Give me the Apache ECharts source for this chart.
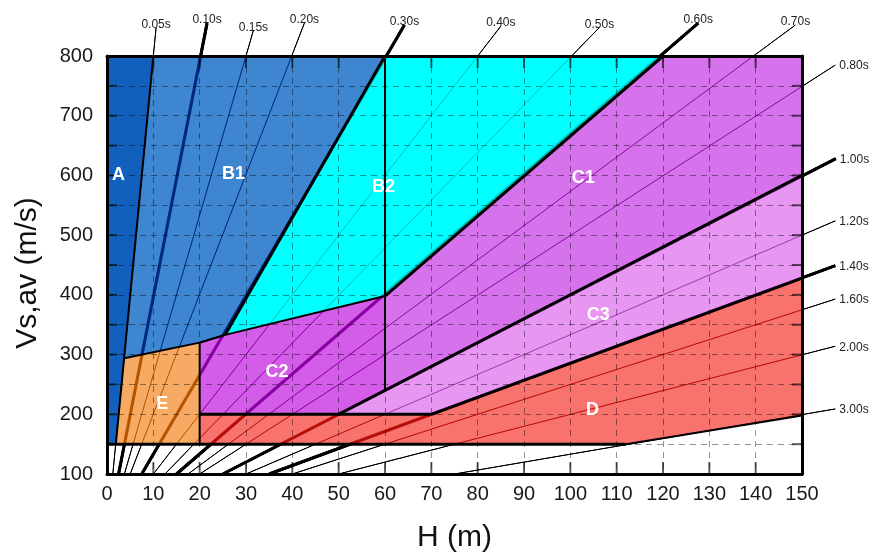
<!DOCTYPE html>
<html><head><meta charset="utf-8">
<script src="https://cdn.jsdelivr.net/npm/echarts@6/dist/echarts.min.js"></script>
<style>html,body{margin:0;padding:0;background:#fff}#c{width:875px;height:558px}</style>
</head><body><div id="c"></div>
<script>
// ---------- data ----------
const periodLabels = ['0.05s','0.10s','0.15s','0.20s','0.30s','0.40s','0.50s','0.60s','0.70s',
                      '0.80s','1.00s','1.20s','1.40s','1.60s','2.00s','3.00s'];
// H (m) where each period line leaves the bottom axis (Vs = 100)
const lineStartH = [1.25, 2.5, 3.75, 5, 7.5, 10, 12.5, 15, 17.5, 20, 25, 30, 35, 40, 50, 75];
// [H, Vs] where each period line ends, outside the frame
const lineEnd = [[10.6,848],[21.6,855],[31.6,843],[42.6,855],[64.2,852],[85,850],[106.3,848],
                 [127.6,855],[148.6,852],[157.2,785],[157.3,628],[157.2,524],[157.2,449],
                 [157.2,393],[157.2,314],[157.2,209]];
const thickPeriods = ['0.10s','0.30s','0.60s','1.00s','1.40s'];

const xTicks = [0,10,20,30,40,50,60,70,80,90,100,110,120,130,140,150];
const yTicks = [100,150,200,250,300,350,400,450,500,550,600,650,700,750,800];
const yTickLabels = ['100','200','300','400','500','600','700','800'];

const regionNames = ['A','B1','B2','C1','C2','C3','D','E'];
const regionA  = [[0,150],[0,800],[10,800],[1.9,150]];
const regionB1 = [[3.7,294],[10,800],[60,800],[25.5,333],[20,320]];
const regionB2 = [[25.5,333],[60,800],[120,800],[60,398]];
const regionC1 = [[60,398],[120,800],[150,800],[150,600],[60,240]];
const regionC2 = [[20,320],[25.5,333],[60,398],[60,240],[50,200],[20,200]];
const regionC3 = [[50,200],[150,600],[150,428],[70,200]];
const regionD  = [[20,150],[20,200],[70,200],[150,428],[150,198],[112,150]];
const regionE  = [[1.9,150],[3.7,294],[20,320],[20,150]];
const regionLabelAt = [[2.5,600],[27.3,603],[59.7,580],[102.8,595],[36.7,270],[106,366],[104.8,207],[11.9,217]];

const boundaryThick = [
  [[0,150],[112,150]],
  [[25.5,333],[60,800]],
  [[60,398],[120,800]],
  [[20,200],[70,200]],
  [[50,200],[150,600]],
  [[70,200],[150,428]]
];
const boundaryMedium = [
  [[1.9,150],[10,800]],
  [[3.7,294],[20,320],[25.5,333]],
  [[20,320],[25.5,333],[60,398]],
  [[20,150],[20,320]],
  [[60,240],[60,800]],
  [[112,150],[150,198]]
];

// ---------- styling ----------
const FONT = '"Liberation Sans", Arial, sans-serif';
const regionColors = ['#1260be','#3e86d0','#00ffff','#d672ec','#d35ce8','#e796f2','#f8726e','#f6aa64'];
const xMin = 0, xMax = 150, yMin = 100, yMax = 800;
const regions = [regionA, regionB1, regionB2, regionC1, regionC2, regionC3, regionD, regionE];

// tick items: [value, side]  side 0 bottom, 1 top, 2 left, 3 right
const tickItems = [].concat(
  xTicks.map(v => [v, 0]), xTicks.map(v => [v, 1]),
  yTicks.map(v => [v, 2]), yTicks.map(v => [v, 3])
);
const TICK_X = 12, TICK_Y = 10, TICK_W = 2;

function periodSeries(z, color, blend, withLabels) {
  const s = {
    type: 'custom', z: z, clip: false, silent: true, animation: false,
    xAxisIndex: 0, yAxisIndex: 0,
    data: lineStartH.map(h => [h, yMin]),
    renderItem: function (params, api) {
      const i = params.dataIndex;
      const a = api.coord([lineStartH[i], yMin]);
      const b = api.coord(lineEnd[i]);
      const w = thickPeriods.indexOf(periodLabels[i]) >= 0 ? 3 : 1;
      const children = [{ type: 'line', shape: { x1: a[0], y1: a[1], x2: b[0], y2: b[1] },
                          style: { stroke: color, lineWidth: w } }];
      if (withLabels) {
        const top = lineEnd[i][1] > yMax;
        children.push({ type: 'text', x: top ? b[0] : b[0] + 4, y: top ? b[1] + 3 : b[1] + 1,
          style: { text: periodLabels[i], font: '12px ' + FONT, fill: '#222',
                   align: top ? 'center' : 'left', verticalAlign: top ? 'bottom' : 'middle' } });
      }
      return { type: 'group', children: children };
    }
  };
  if (blend) s.blendMode = blend;
  return s;
}

// ticks drawn as small filled rectangles (inside the frame)
const tickSeries = {
  type: 'custom', z: 10, clip: false, silent: true, animation: false,
  xAxisIndex: 0, yAxisIndex: 0,
  data: tickItems.map(t => (t[1] < 2 ? [t[0], t[1] === 0 ? yMin : yMax] : [t[1] === 2 ? xMin : xMax, t[0]])),
  renderItem: function (params, api) {
    const t = tickItems[params.dataIndex];
    const v = t[0], side = t[1];
    let r;
    if (side === 0) { const a = api.coord([v, yMin]); r = { x: a[0] - TICK_W / 2, y: a[1] - TICK_X, width: TICK_W, height: TICK_X }; }
    else if (side === 1) { const a = api.coord([v, yMax]); r = { x: a[0] - TICK_W / 2, y: a[1], width: TICK_W, height: TICK_X }; }
    else if (side === 2) { const a = api.coord([xMin, v]); r = { x: a[0], y: a[1] - TICK_W / 2, width: TICK_Y, height: TICK_W }; }
    else { const a = api.coord([xMax, v]); r = { x: a[0] - TICK_Y, y: a[1] - TICK_W / 2, width: TICK_Y, height: TICK_W }; }
    return { type: 'group', children: [
      { type: 'rect', shape: r, style: { fill: 'rgba(0,0,0,0.62)', stroke: null } }
    ] };
  }
};

function boundarySeries(lines, width) {
  return {
    type: 'custom', z: 4, clip: false, silent: true, animation: false,
    xAxisIndex: 0, yAxisIndex: 0,
    data: lines.map(l => l[0]),
    renderItem: function (params, api) {
      const pts = lines[params.dataIndex].map(p => api.coord(p));
      return { type: 'polyline', shape: { points: pts },
               style: { stroke: '#000', lineWidth: width, fill: null, lineJoin: 'round' } };
    }
  };
}

function axisBase() {
  return {
    type: 'value', z: 5,
    axisLine: { show: true, onZero: false, lineStyle: { color: '#000', width: 3 } },
    axisTick: { show: false }
  };
}
const splitStyle = { show: true, lineStyle: { type: [6, 5], color: 'rgba(0,0,0,0.42)', width: 1 } };

const option = {
  animation: false,
  backgroundColor: '#fff',
  grid: { left: 107, right: 73, top: 56, bottom: 83, containLabel: false },
  xAxis: [
    Object.assign(axisBase(), {
      position: 'bottom', min: xMin, max: xMax, interval: 10,
      axisLabel: { fontSize: 20, color: '#1a1a1a', margin: 10, fontFamily: FONT },
      splitLine: splitStyle,
      name: 'H (m)', nameLocation: 'middle', nameGap: 49,
      nameTextStyle: { fontSize: 30, color: '#111', fontFamily: FONT }
    }),
    Object.assign(axisBase(), {
      position: 'top', min: xMin, max: xMax, interval: 10,
      axisLabel: { show: false }, splitLine: { show: false }
    })
  ],
  yAxis: [
    Object.assign(axisBase(), {
      position: 'left', min: yMin, max: yMax, interval: 50,
      axisLabel: { fontSize: 20, color: '#1a1a1a', margin: 14, fontFamily: FONT,
                   formatter: v => (yTickLabels.indexOf(String(v)) >= 0 ? String(v) : '') },
      splitLine: splitStyle,
      name: 'Vs,av (m/s)', nameLocation: 'middle', nameGap: 64, nameRotate: 90,
      nameTextStyle: { fontSize: 30, color: '#111', fontFamily: FONT, padding: [0, 16, 0, 0] }
    }),
    Object.assign(axisBase(), {
      position: 'right', min: yMin, max: yMax, interval: 50,
      axisLabel: { show: false }, splitLine: { show: false }
    })
  ],
  series: [
    periodSeries(1, '#000', null, false),
    {
      type: 'custom', z: 2, clip: false, silent: true, animation: false,
      xAxisIndex: 0, yAxisIndex: 0,
      data: regions.map(r => r[0]),
      renderItem: function (params, api) {
        const i = params.dataIndex;
        return { type: 'polygon', shape: { points: regions[i].map(p => api.coord(p)) },
                 style: { fill: regionColors[i] } };
      }
    },
    periodSeries(3, '#999999', 'color-burn', false),
    periodSeries(3, 'rgba(0,0,0,0.25)', null, true),
    boundarySeries(boundaryThick, 3),
    boundarySeries(boundaryMedium, 2),
    tickSeries,
    {
      type: 'custom', z: 11, clip: false, silent: true, animation: false,
      xAxisIndex: 0, yAxisIndex: 0,
      data: regionLabelAt,
      renderItem: function (params, api) {
        const i = params.dataIndex;
        const p = api.coord(regionLabelAt[i]);
        return { type: 'text', x: p[0], y: p[1],
                 style: { text: regionNames[i], font: 'bold 18px ' + FONT, fill: '#fff',
                          align: 'center', verticalAlign: 'middle' } };
      }
    }
  ]
};
const chart = echarts.init(document.getElementById('c'), null, { renderer: 'canvas' });
chart.setOption(option);
</script>
</body></html>
